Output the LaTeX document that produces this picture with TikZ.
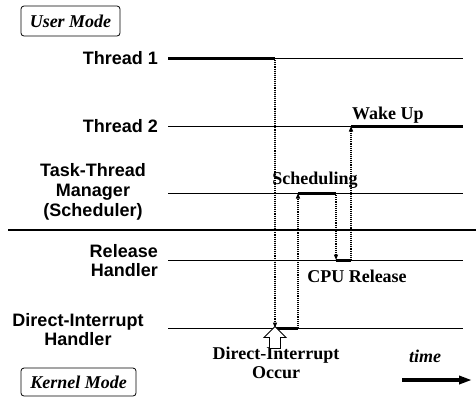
\documentclass[tikz,border=0pt]{standalone}
\usepackage{fontspec}
\setmainfont{Liberation Serif}
\setsansfont{Liberation Sans}
\usetikzlibrary{arrows.meta, positioning}

\begin{document}
\begin{tikzpicture}[
  x=1pt, y=-1pt,
  lane/.style={line width=0.8pt},
  busy/.style={line width=3pt},
  hop/.style={line width=1.2pt, dash pattern=on 1.1pt off 1pt,
    -{Triangle[length=5.5pt, width=4pt]}},
  lbl/.style={font=\fontsize{18}{19}\selectfont\sffamily\bfseries, align=center, inner sep=0pt},
  evt/.style={font=\fontsize{18}{19}\selectfont\bfseries, align=center, inner sep=0pt},
  mode/.style={draw, rounded corners=3pt, line width=0.8pt,
    font=\fontsize{18}{19}\selectfont\bfseries\itshape}
]
\useasboundingbox (0,0) rectangle (476,397);

% lane labels
\node[lbl, anchor=east] (t1lbl) at (158,58) {Thread 1};
\node[lbl, anchor=east] (t2lbl) at (158,126) {Thread 2};
\node[lbl] (tmlbl) at (93,192) {Task-Thread\\[1pt]Manager\\[1pt](Scheduler)};
\node[lbl, align=right, anchor=east] (rhlbl) at (158,261) {Release\\Handler};
\node[lbl] (dilbl) at (78,330) {Direct-Interrupt\\Handler};

\node[mode, minimum width=99pt, minimum height=30pt] (umode) at (70.5,21) {User Mode};
\node[mode, minimum width=115pt, minimum height=28pt] (kmode) at (78.5,382) {Kernel Mode};

% lanes
\coordinate (t1s) at (168,58);  \coordinate (t1e) at (463,58);
\coordinate (t2s) at (168,126); \coordinate (t2e) at (463,126);
\coordinate (tms) at (168,193); \coordinate (tme) at (463,193);
\coordinate (rhs) at (168,260); \coordinate (rhe) at (463,260);
\coordinate (dis) at (168,328); \coordinate (die) at (463,328);
\coordinate (sepl) at (8,230);  \coordinate (sepr) at (476,230);

% switching points
\coordinate (t1off) at (275,58);  \coordinate (dion) at (275,328);
\coordinate (dioff) at (298,328); \coordinate (tmon) at (298,193);
\coordinate (tmoff) at (336,193); \coordinate (rhon) at (336,260);
\coordinate (rhoff) at (351,260); \coordinate (t2on) at (351,126);

\foreach \a/\b in {t1s/t1e, t2s/t2e, tms/tme, rhs/rhe, dis/die}
  \draw[lane] (\a) -- (\b);
\draw[line width=1.1pt] (sepl) -- (sepr);

\foreach \a/\b in {t1s/t1off, dion/dioff, tmon/tmoff, rhon/rhoff, t2on/t2e}
  \draw[busy] (\a) -- (\b);

\draw[hop] (t1off) -- (dion);
\draw[hop] (dioff) -- (tmon);
\draw[hop] (tmoff) -- (rhon);
\draw[hop] (rhoff) -- (t2on);

% event labels
\node[evt, anchor=base west] (wake) at (352,119) {Wake Up};
\node[evt] (sched) at (315,180) {Scheduling};
\node[evt] (cpurel) at (357,276) {CPU Release};
\node[evt] (irqlbl) at (276,363) {Direct-Interrupt\\Occur};

% interrupt arrow
\draw[line width=0.9pt, fill=white] ([yshift=1.5]dion) -- ++(11,11) -- ++(-5.5,0) -- ++(0,11)
  -- ++(-11,0) -- ++(0,-11) -- ++(-5.5,0) -- cycle;

% time axis
\node[evt, font=\fontsize{18}{19}\selectfont\bfseries\itshape] (timelbl) at (425,356) {time};
\coordinate (tstart) at (402,380); \coordinate (tend) at (472,380);
\draw[line width=3.5pt, -{Triangle[length=13pt, width=8pt]}] (tstart) -- (tend);
\end{tikzpicture}
\end{document}
